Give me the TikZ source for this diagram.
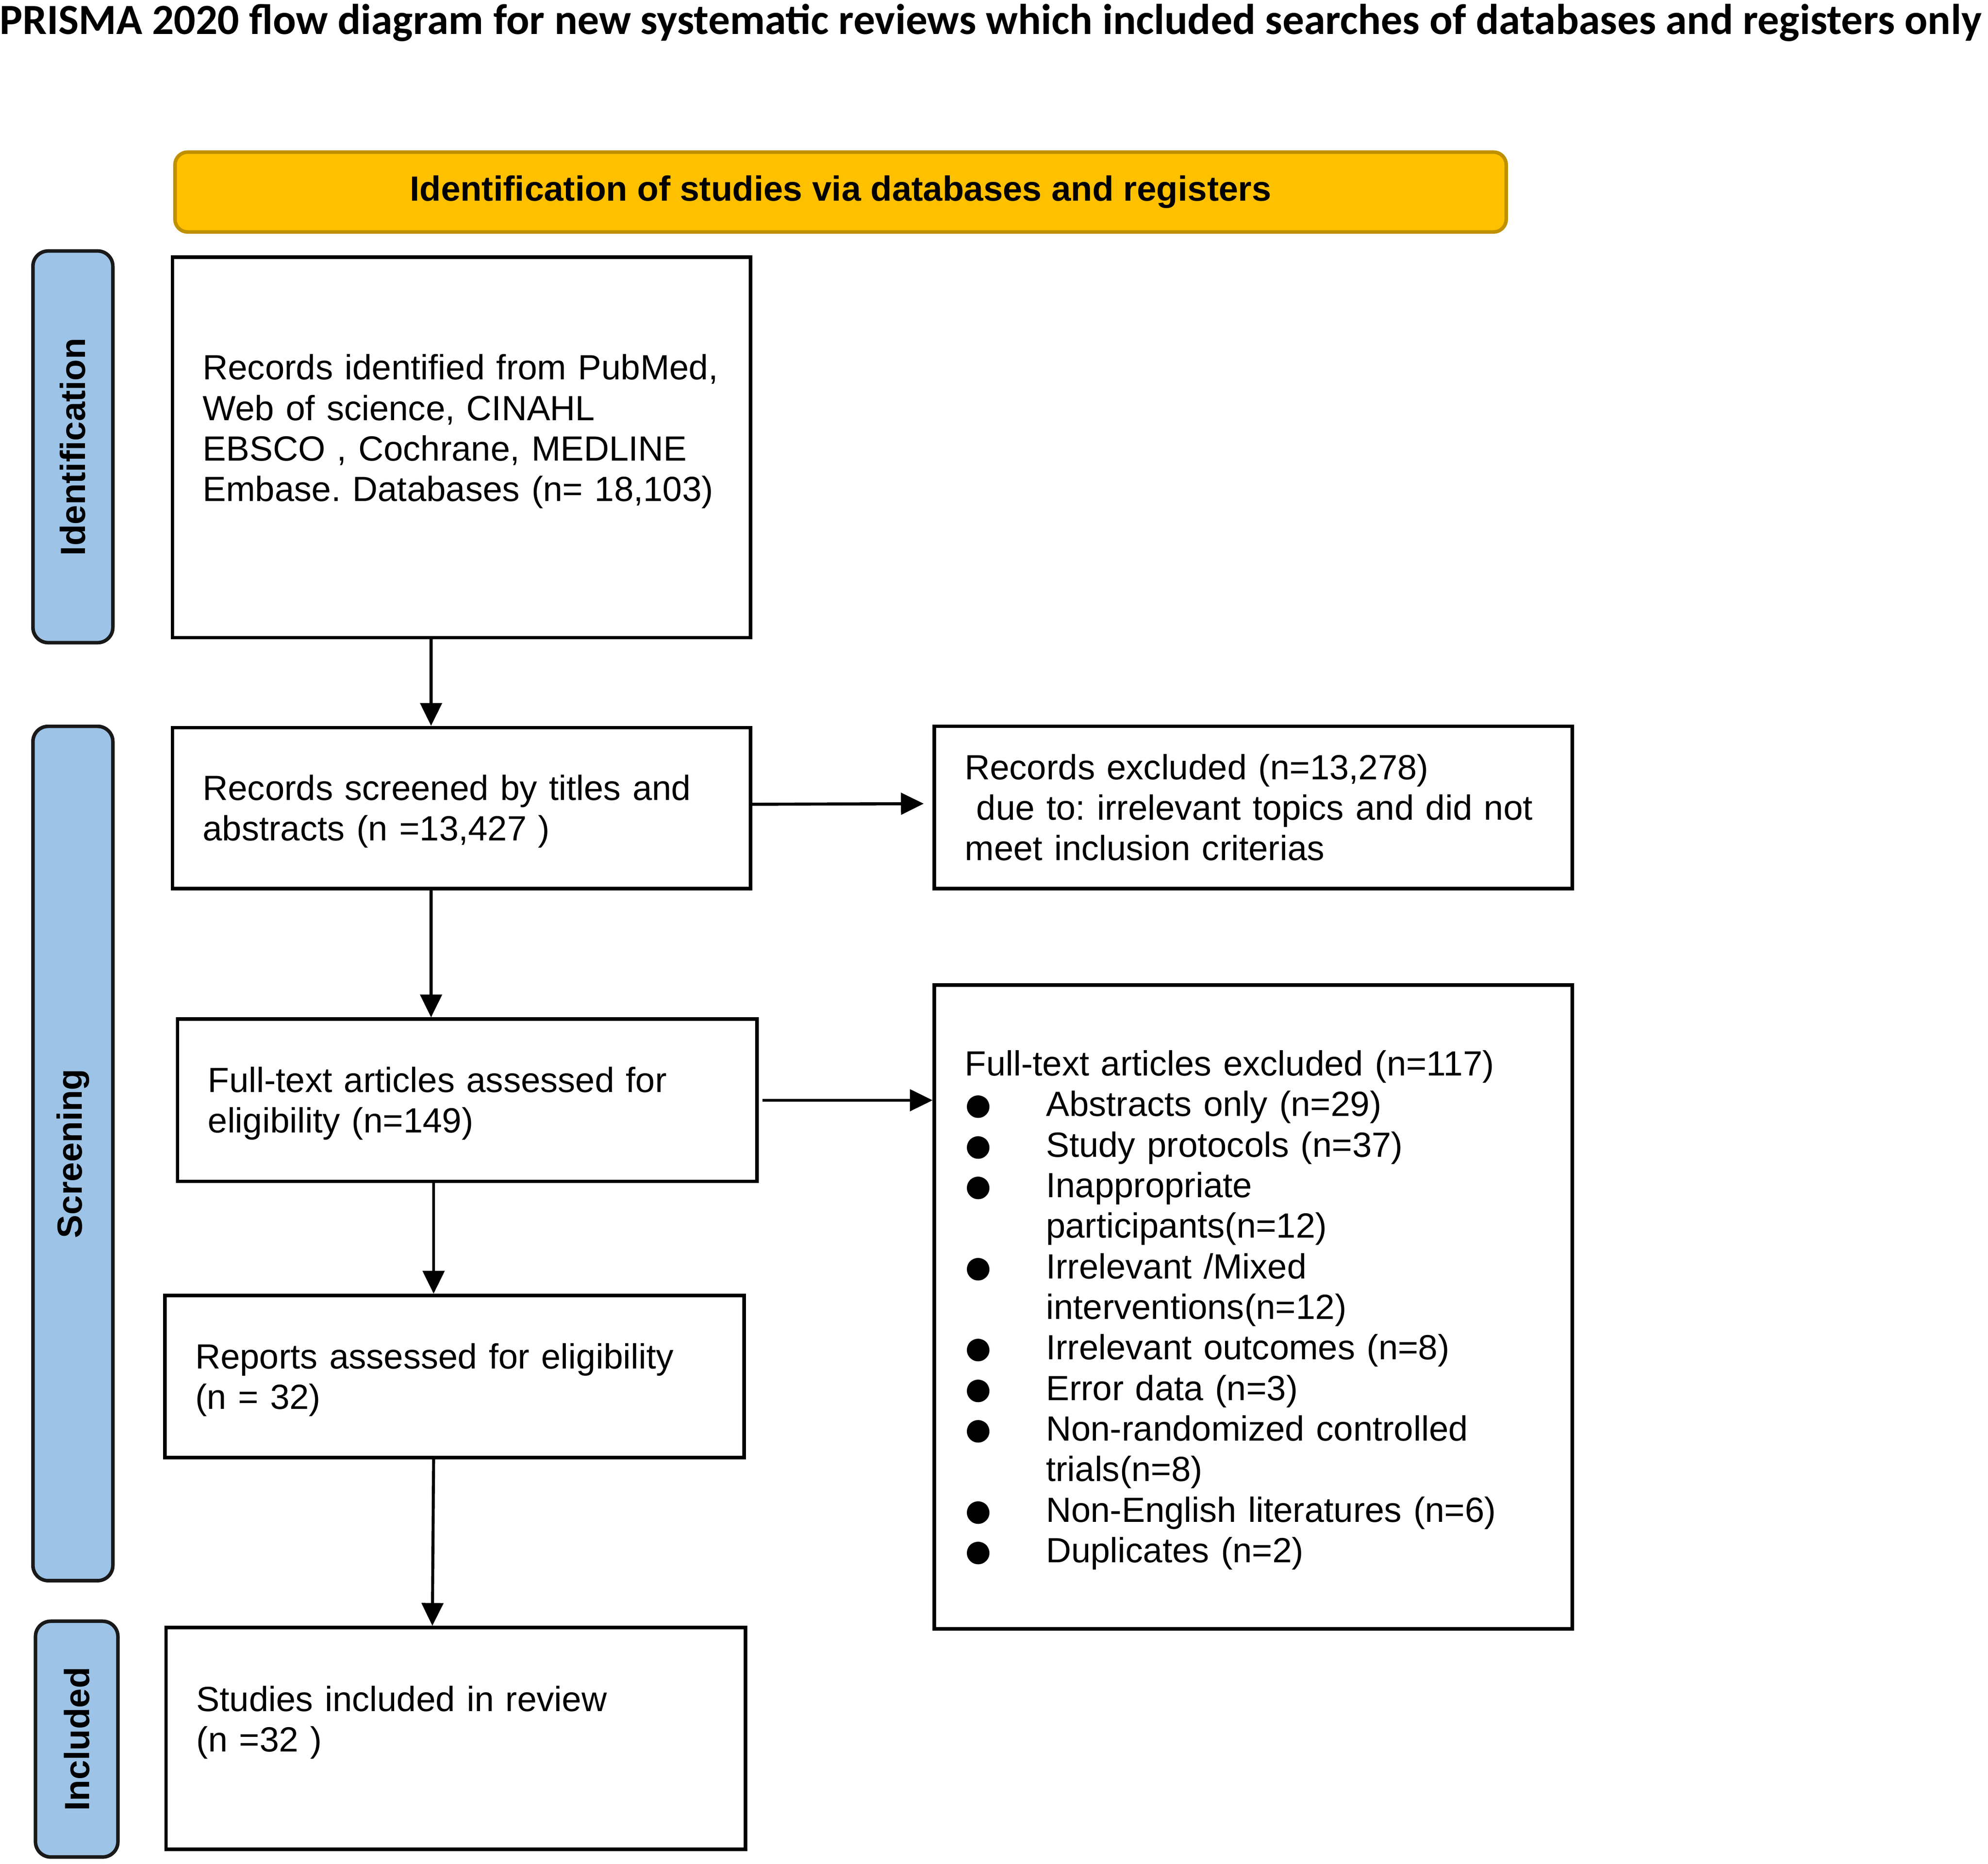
\documentclass[tikz,border=0pt]{standalone}
\usepackage{fontspec}
\setmainfont{Liberation Sans}
\newfontfamily\titlefont{Carlito}
\usetikzlibrary{arrows.meta,positioning}

\definecolor{prismagold}{HTML}{FFC000}
\definecolor{prismagoldline}{HTML}{BF9000}
\definecolor{prismablue}{HTML}{9DC3E6}

\newcommand{\prismafont}{\fontsize{27.6}{32}\selectfont\frenchspacing}
\newcommand{\bitem}{\makebox[64pt][l]{\hspace{-2pt}\smash{\raisebox{-0.16em}{\scalebox{1.5}{●}}}}}
\newcommand{\bcont}{\hspace*{64pt}}

\tikzset{
  flowbox/.style={draw,rectangle,line width=2.8pt,align=left,
    inner xsep=24pt,inner ysep=0pt,text height=25pt,font=\prismafont},
  phase/.style={draw=black!90,fill=prismablue,line width=2.8pt,
    rounded corners=12pt,rotate=90,inner sep=0pt,font=\prismafont\bfseries},
  flow/.style={->,line width=2.4pt}
}

\begin{document}
\begin{tikzpicture}[x=1pt,y=-1pt,>={Triangle[length=18pt,width=17pt]}]
\useasboundingbox (0,0) rectangle (1568,1470.5);

\node (title) at (781.5,18) {\resizebox{1563pt}{!}{\titlefont\bfseries
  PRISMA 2020 flow diagram for new systematic reviews which included searches of databases and registers only}};

\node[draw=prismagoldline,fill=prismagold,line width=2.8pt,rounded corners=10pt,
  minimum width=1050pt,minimum height=63pt,font=\prismafont\bfseries] (head)
  at (663,151.5) {Identification of studies via databases and registers};

% phases
\node[phase,minimum width=309pt,minimum height=63pt] (ident) at (57.5,352.5) {Identification};
\node[phase,minimum width=674pt,minimum height=63pt] (screen) at (57.5,910) {Screening};
\node[phase,minimum width=186pt,minimum height=65pt] (incl) at (60.5,1372) {Included};

% boxes
\node[flowbox,text width=408pt,minimum height=300pt,text depth=132pt] (rec) at (364,353)
  {Records identified from PubMed,\\Web of science, CINAHL\\EBSCO , Cochrane, MEDLINE\\Embase. Databases (n= 18,103)};
\node[flowbox,text width=408pt,minimum height=127pt] (scr) at (364,637.5)
  {Records screened by titles and\\abstracts (n =13,427 )};
\node[flowbox,text width=455pt,minimum height=128pt,text height=20pt] (exc1) at (988.5,637)
  {Records excluded (n=13,278)\\\ due to: irrelevant topics and did not\\meet inclusion criterias};
\node[flowbox,text width=409pt,minimum height=128pt] (full) at (368.5,868)
  {Full-text articles assessed for\\eligibility (n=149)};
\node[flowbox,text width=455pt,minimum height=508pt] (exc2) at (988.5,1031)
  {Full-text articles excluded (n=117)\\
   \bitem Abstracts only (n=29)\\
   \bitem Study protocols (n=37)\\
   \bitem Inappropriate\\
   \bcont participants(n=12)\\
   \bitem Irrelevant /Mixed\\
   \bcont interventions(n=12)\\
   \bitem Irrelevant outcomes (n=8)\\
   \bitem Error data (n=3)\\
   \bitem Non-randomized controlled\\
   \bcont trials(n=8)\\
   \bitem Non-English literatures (n=6)\\
   \bitem Duplicates (n=2)};
\node[flowbox,text width=409pt,minimum height=128pt] (rep) at (358.5,1086)
  {Reports assessed for eligibility\\(n = 32)};
\node[flowbox,text width=409pt,minimum height=175pt,text depth=68pt] (inc) at (359.5,1371.5)
  {Studies included in review\\(n =32 )};

\path[flow]
([xshift=-24pt]rec.south) edge ([xshift=-24pt]scr.north);
\path[flow]
([xshift=-24pt]scr.south) edge ([xshift=-28.5pt]full.north);
\path[flow]
([xshift=-26.5pt]full.south) edge ([xshift=-16.5pt]rep.north);
\path[flow]
([xshift=-16.5pt]rep.south) edge ([xshift=-18.5pt]inc.north);
\path[flow]
([yshift=3pt]scr.east) edge[shorten >=7pt] ([yshift=3pt]exc1.west);
\path[flow]
([xshift=3pt]full.east) edge (full.east -| exc2.west);
\end{tikzpicture}
\end{document}
